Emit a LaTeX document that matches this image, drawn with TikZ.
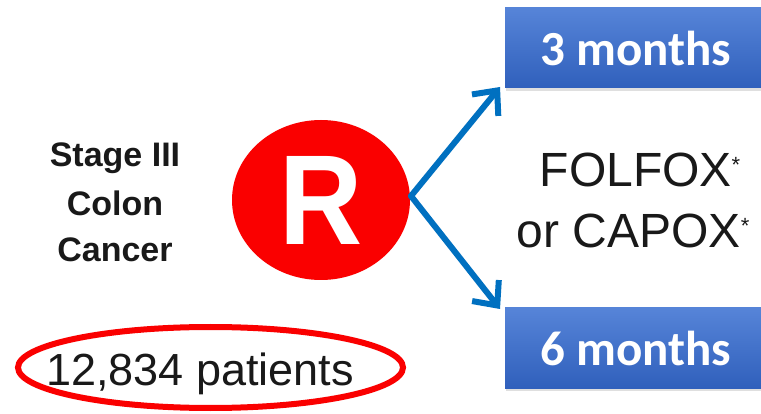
\documentclass[tikz,border=0pt]{standalone}
\usepackage{fontspec}
\setmainfont{Liberation Sans}
\newfontfamily\calib{Carlito}
\usetikzlibrary{arrows.meta,shadows,shapes.geometric}
\definecolor{armblue}{RGB}{0,112,192}
\definecolor{boxtop}{RGB}{86,132,216}
\definecolor{boxbot}{RGB}{48,96,188}
\definecolor{rred}{RGB}{250,0,0}
\definecolor{txt}{RGB}{25,25,25}
\tikzset{
  armbox/.style={rectangle, minimum width=262pt, minimum height=80pt, inner sep=0pt,
    top color=boxtop, bottom color=boxbot, draw=none,
    drop shadow={opacity=0.25, shadow xshift=1pt, shadow yshift=-3pt},
    text=white, font=\calib\bfseries\fontsize{49}{55}\selectfont},
  stagetxt/.style={anchor=base, inner sep=0pt, text=txt, font=\bfseries\fontsize{34}{40}\selectfont},
  regtxt/.style={anchor=base, inner sep=0pt, text=txt, font=\fontsize{48}{52}\selectfont},
  arm/.style={draw=armblue, line width=6pt, -{Straight Barb[length=19pt, width=34pt, line width=6pt]}},
}
\newcommand{\astmark}{\raisebox{14pt}{\fontsize{22}{22}\selectfont*}}
\begin{document}
\begin{tikzpicture}[x=1pt, y=-1pt]
\useasboundingbox[fill=white] (0,0) rectangle (761,414);
% boxes
\node[armbox] (b3) at (636,48) {3 months};
\node[armbox] (b6) at (636,348) {6 months};
% randomisation circle
\node[ellipse, fill=rred, minimum width=178pt, minimum height=160pt, inner sep=0pt] (R) at (321,200)
  {\textcolor{white}{\scalebox{0.9}[1]{\bfseries\fontsize{128}{130}\selectfont R}}};
\coordinate (split) at (411,196);
\coordinate (t3) at (500,87);
\coordinate (t6) at (500,309);
\draw[arm, line cap=round] (split) -- (t3);
\draw[arm, line cap=round] (split) -- (t6);
% left labels
\node[stagetxt] (s1) at (115,167) {Stage III};
\node[stagetxt] (s2) at (115,216) {Colon};
\node[stagetxt] (s3) at (115,262) {Cancer};
% regimen
\node[regtxt] (f1) at (640,187) {FOLFOX\astmark};
\node[regtxt] (f2) at (633,248) {or CAPOX\astmark};
% patients
\node[anchor=base, inner sep=0pt, text=txt, font=\fontsize{45}{50}\selectfont] (pt) at (200,385) {12,834 patients};
\node[ellipse, draw=rred, line width=6pt, minimum width=385pt, minimum height=81pt, inner sep=0pt] (ring) at (210.5,367.5) {};
\end{tikzpicture}
\end{document}
